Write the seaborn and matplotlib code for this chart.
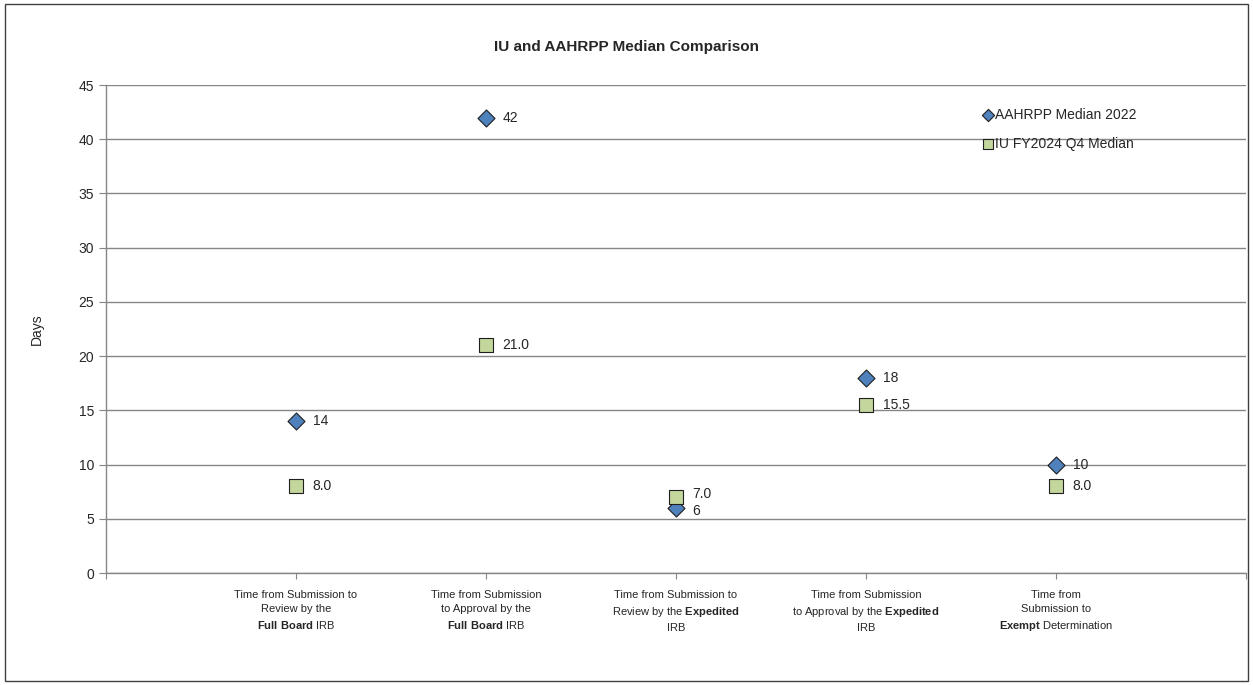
import pandas as pd
import seaborn as sns
import matplotlib
matplotlib.use('Agg')
import matplotlib.pyplot as plt
from matplotlib.patches import Rectangle

# chart values
categories = [
    'Time from Submission to\nReview by the\n$\\bf{Full\\ Board}$ IRB',
    'Time from Submission\nto Approval by the\n$\\bf{Full\\ Board}$ IRB',
    'Time from Submission to\nReview by the $\\bf{Expedited}$\nIRB',
    'Time from Submission\nto Approval by the $\\bf{Expedited}$\nIRB',
    'Time from\nSubmission to\n$\\bf{Exempt}$ Determination',
]
positions = [1, 2, 3, 4, 5]
aahrpp = [14, 42, 6, 18, 10]
iu = [8.0, 21.0, 7.0, 15.5, 8.0]
aahrpp_labels = ['14', '42', '6', '18', '10']
iu_labels = ['8.0', '21.0', '7.0', '15.5', '8.0']
y_ticks = [0, 5, 10, 15, 20, 25, 30, 35, 40, 45]

sns.set_style('white')
plt.rcParams['font.family'] = ['Liberation Sans', 'DejaVu Sans']
plt.rcParams['mathtext.fontset'] = 'custom'
plt.rcParams['mathtext.rm'] = 'Liberation Sans'
plt.rcParams['mathtext.bf'] = 'Liberation Sans:bold'

df_a = pd.DataFrame({'x': positions, 'y': aahrpp})
df_i = pd.DataFrame({'x': positions, 'y': iu})

fig = plt.figure(figsize=(12.53, 6.85), dpi=100)
ax = fig.add_axes([0.0846, 0.1635, 0.9098, 0.7124])

sns.scatterplot(data=df_a, x='x', y='y', marker='D', s=75, color='#4F81BD',
                edgecolor='#1F1F1F', linewidth=0.8, ax=ax, label='AAHRPP Median 2022', zorder=3)
sns.scatterplot(data=df_i, x='x', y='y', marker='s', s=95, color='#C3D69B',
                edgecolor='#1F1F1F', linewidth=0.8, ax=ax, label='IU FY2024 Q4 Median', zorder=3)

# data labels; the 6 / 7.0 pair sits very close, so nudge them apart a touch
for i, (x, y, t) in enumerate(zip(positions, aahrpp, aahrpp_labels)):
    dy = -2 if aahrpp[i] < iu[i] and iu[i] - aahrpp[i] < 2 else 0
    ax.annotate(t, (x, y), xytext=(12, dy), textcoords='offset points', va='center', fontsize=10)
for i, (x, y, t) in enumerate(zip(positions, iu, iu_labels)):
    dy = 2 if iu[i] > aahrpp[i] and iu[i] - aahrpp[i] < 2 else 0
    ax.annotate(t, (x, y), xytext=(12, dy), textcoords='offset points', va='center', fontsize=10)

ax.set_xlim(0, 6)
ax.set_ylim(0, 45)
ax.set_yticks(y_ticks)
ax.set_xticks([0, 1, 2, 3, 4, 5, 6])
ax.set_xticklabels([''] + categories + [''], fontsize=8, linespacing=1.5)
ax.tick_params(axis='y', labelsize=10, length=5, color='#868686', direction='out', left=True)
ax.tick_params(axis='x', length=4, color='#868686', direction='out', bottom=True, pad=8)
ax.grid(axis='y', color='#868686', linewidth=1)
ax.set_axisbelow(True)
for s in ['top', 'right']:
    ax.spines[s].set_visible(False)
for s in ['left', 'bottom']:
    ax.spines[s].set_color('#868686')
    ax.spines[s].set_linewidth(1)
    ax.spines[s].set_zorder(2.5)
ax.set_xlabel('')
ax.set_ylabel('Days', fontsize=10, labelpad=25)

ax.legend(loc='upper left', bbox_to_anchor=(0.7645, 0.964), frameon=False, fontsize=10,
          handlelength=0.7, handletextpad=0.15, labelspacing=1.05, borderaxespad=0,
          markerscale=0.72)

fig.text(0.5, 0.931, 'IU and AAHRPP Median Comparison', ha='center', va='center',
         fontsize=11, fontweight='bold')
fig.patches.append(Rectangle((0.004, 0.006), 0.992, 0.988, transform=fig.transFigure,
                             fill=False, edgecolor='#404040', linewidth=1))

fig.savefig('out.png', dpi=100)
